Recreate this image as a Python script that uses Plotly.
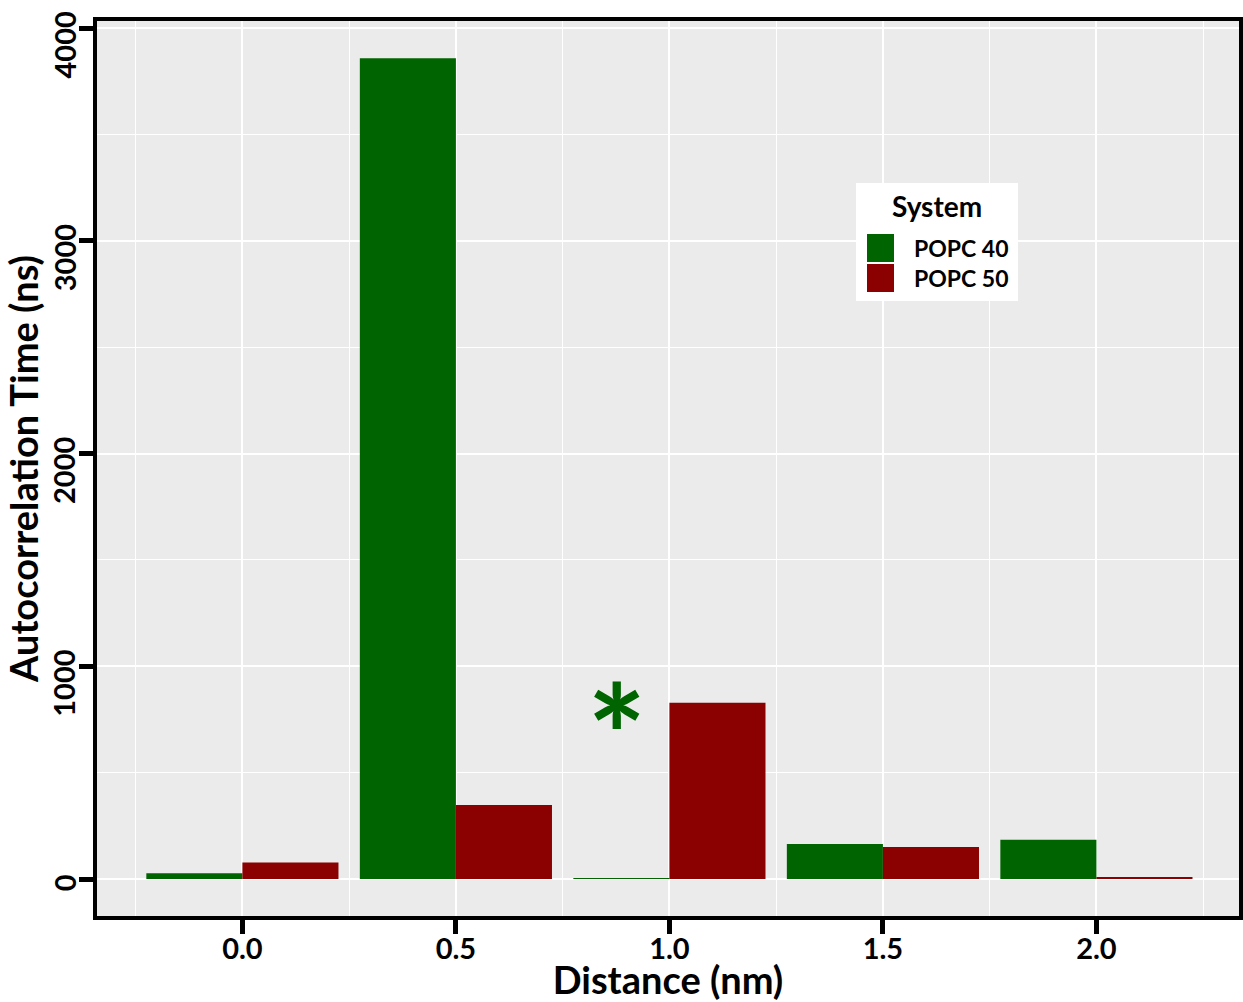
import plotly.graph_objects as go

# Autocorrelation times per distance bin for the two membrane systems
distance = [0.0, 0.5, 1.0, 1.5, 2.0]
popc40 = [27, 3858, 2, 165, 185]
popc50 = [77, 348, 828, 150, 10]
series_names = ["POPC 40", "POPC 50"]
series_colors = ["#006400", "#8B0000"]
x_ticks = [0.0, 0.5, 1.0, 1.5, 2.0]
x_tick_labels = ["0.0", "0.5", "1.0", "1.5", "2.0"]
y_ticks = [0, 1000, 2000, 3000, 4000]
y_tick_labels = ["0", "1000", "2000", "3000", "4000"]

W, H = 1243, 1002
M_L, M_R, M_T, M_B = 95, 2, 19, 84
PW = W - M_L - M_R
PH = H - M_T - M_B

FONT = "Lato"
TICK_SIZE = 29


def px(x):
    return (x - M_L) / PW


def py(y):
    return (H - M_B - y) / PH


fig = go.Figure()
for name, vals, col in zip(series_names, [popc40, popc50], series_colors):
    fig.add_trace(go.Bar(x=distance, y=vals, name=name, marker_color=col,
                         marker_line_width=0, showlegend=False))

fig.update_layout(
    width=W, height=H,
    margin=dict(l=M_L, r=M_R, t=M_T, b=M_B),
    paper_bgcolor="white",
    plot_bgcolor="#EBEBEB",
    barmode="group", bargap=0.1, bargroupgap=0,
    font=dict(family=FONT, color="black", weight="bold"),
)

fig.update_xaxes(
    range=[-0.3452, 2.3386], automargin=False,
    tickvals=x_ticks, ticktext=x_tick_labels,
    ticks="outside", ticklen=15, tickwidth=5, tickcolor="black",
    tickfont=dict(size=TICK_SIZE, family=FONT, color="black", weight="bold"),
    ticklabeloverflow="allow", ticklabelstandoff=-10,
    showgrid=True, gridcolor="white", gridwidth=2,
    minor=dict(dtick=0.25, tick0=0, showgrid=True, gridcolor="white", gridwidth=1),
    zeroline=False, showline=False,
    title=dict(text="Distance (nm)", standoff=5,
               font=dict(size=38, family=FONT, color="black", weight="bold")),
)
fig.update_yaxes(
    range=[-183.3, 4042.3], automargin=False,
    tickvals=y_ticks, showticklabels=False,
    ticks="outside", ticklen=15, tickwidth=5, tickcolor="black",
    showgrid=True, gridcolor="white", gridwidth=2,
    minor=dict(dtick=500, tick0=0, showgrid=True, gridcolor="white", gridwidth=1),
    zeroline=False, showline=False,
    title=dict(text="Autocorrelation Time (ns)", standoff=30,
               font=dict(size=38, family=FONT, color="black", weight="bold")),
)

# Vertical y tick labels, set slightly below their ticks
digit_w = 0.58 * TICK_SIZE
for val, lab in zip(y_ticks, y_tick_labels):
    fig.add_annotation(x=0, y=val, xref="paper", yref="y", text=lab, showarrow=False,
                       textangle=-90, xanchor="center", yanchor="middle",
                       xshift=-31, yshift=-0.26 * digit_w * len(lab),
                       font=dict(size=TICK_SIZE, family=FONT, color="black", weight="bold"))

# Panel frame
fig.add_shape(type="rect", xref="paper", yref="paper", x0=0, x1=1, y0=0, y1=1,
              line=dict(color="black", width=4), fillcolor="rgba(0,0,0,0)", layer="above")

# Significance marker above the 1.0 nm group
fig.add_annotation(x=0.877, y=680, xref="x", yref="y", text="*", showarrow=False,
                   font=dict(size=140, family=FONT, color="#006400", weight="bold"),
                   yanchor="middle", xanchor="center")

# Legend box
fig.add_shape(type="rect", xref="paper", yref="paper",
              x0=px(856), x1=px(1018), y0=py(301), y1=py(183),
              line=dict(width=0), fillcolor="white", layer="above")
fig.add_annotation(x=px(937), y=py(206), xref="paper", yref="paper", text="System",
                   showarrow=False, xanchor="center", yanchor="middle",
                   font=dict(size=28, family=FONT, color="black", weight="bold"))
for i, (name, col) in enumerate(zip(series_names, series_colors)):
    top = 234 + i * 30
    fig.add_shape(type="rect", xref="paper", yref="paper",
                  x0=px(867), x1=px(894), y0=py(top + 28), y1=py(top),
                  line=dict(width=0), fillcolor=col, layer="above")
    fig.add_annotation(x=px(912), y=py(top + 14), xref="paper", yref="paper", text=name,
                       showarrow=False, xanchor="left", yanchor="middle",
                       font=dict(size=23, family=FONT, color="black", weight="bold"))

fig.write_html("out.html")
